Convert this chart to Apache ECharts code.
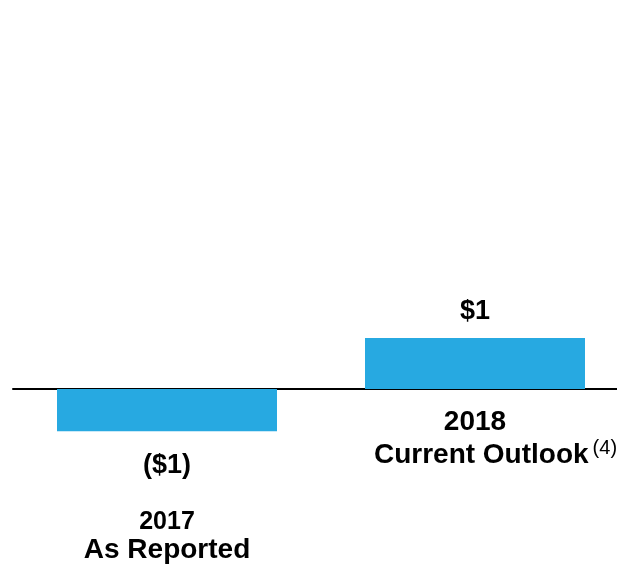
<!DOCTYPE html>
<html>
<head>
<meta charset="utf-8">
<script src="https://cdn.jsdelivr.net/npm/echarts@6/dist/echarts.min.js"></script>
<style>html,body{margin:0;padding:0;background:#fff}#c{width:617px;height:566px}</style>
</head>
<body>
<div id="c"></div>
<script>
const categories = ['2017', '2018'];
const subtitles = ['As Reported', 'Current Outlook'];
const footnotes = ['', '(4)'];
const values = [-0.83, 1.0];
const valueLabels = ['($1)', '$1'];

const chart = echarts.init(document.getElementById('c'), null, {renderer: 'canvas'});
const FONT = '"Liberation Sans", Arial, sans-serif';
chart.setOption({
  animation: false,
  grid: {left: 13, right: -12, top: 83, bottom: 177, outerBoundsMode: 'none', containLabel: false},
  xAxis: {
    type: 'category',
    data: categories,
    axisLine: {show: true, onZero: false, lineStyle: {color: '#000', width: 2}},
    axisTick: {show: false},
    splitLine: {show: false},
    axisLabel: {
      margin: 18,
      interval: 0,
      verticalAlign: 'top',
      formatter: function (v, i) {
        if (values[i] < 0) {
          return '{gap|}\n{y2|' + v + '}\n{b2|' + subtitles[i] + '}';
        }
        return '{b|' + v + '}\n{sp|}{b|' + subtitles[i] + '}{sup|' + footnotes[i] + '}';
      },
      rich: {
        gap: {height: 102, lineHeight: 102},
        y2: {fontFamily: FONT, fontWeight: 'bold', fontSize: 25, color: '#000', lineHeight: 26},
        b2: {fontFamily: FONT, fontWeight: 'bold', fontSize: 28, color: '#000', lineHeight: 30},
        b: {fontFamily: FONT, fontWeight: 'bold', fontSize: 28, color: '#000', lineHeight: 31},
        sp: {width: 41},
        sup: {fontFamily: FONT, fontSize: 20, color: '#000', padding: [0, 0, 14, 4]}
      }
    }
  },
  yAxis: {
    type: 'value', min: 0, max: 6, show: false, splitLine: {show: false}
  },
  series: [{
    type: 'bar',
    clip: false,
    data: values.map(v => ({value: v, label: {position: v < 0 ? 'bottom' : 'top', distance: v < 0 ? 21 : 13}})),
    barWidth: 220,
    itemStyle: {color: '#27A9E1'},
    label: {
      show: true,
      formatter: function (p) { return valueLabels[p.dataIndex]; },
      fontFamily: FONT, fontWeight: 'bold', fontSize: 27, color: '#000'
    }
  }]
});
</script>
</body>
</html>
